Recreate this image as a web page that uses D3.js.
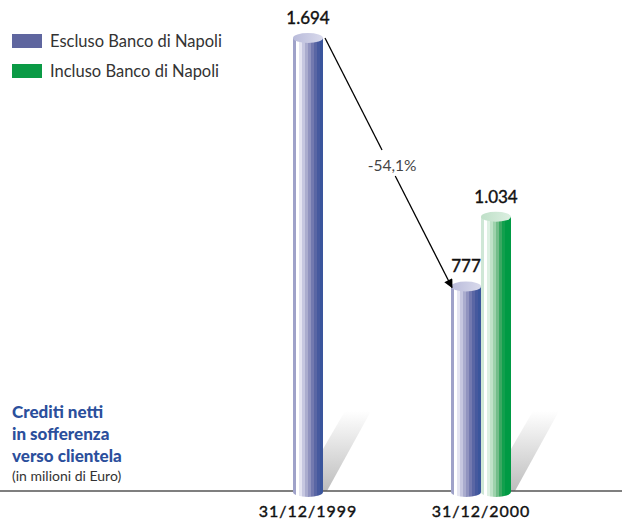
<!DOCTYPE html>
<html>
<head>
<meta charset="utf-8">
<script src="https://cdn.jsdelivr.net/npm/d3@7"></script>
<style>
  html, body { margin: 0; padding: 0; background: #fff; }
  svg { display: block; }
</style>
</head>
<body>
<svg id="chart" width="622" height="521"></svg>
<script>
// ---- data ----
const categories = ["31/12/1999", "31/12/2000"];
const seriesNames = ["Escluso Banco di Napoli", "Incluso Banco di Napoli"];
const escluso = [1694, 777];
const incluso = [null, 1034];
const valueLabels = { escluso: ["1.694", "777"], incluso: [null, "1.034"] };
const changeLabel = "-54,1%";
const titleLines = ["Crediti netti", "in sofferenza", "verso clientela"];
const subtitle = "(in milioni di Euro)";

const svg = d3.select("#chart");
const W = 622, H = 521;

const y = d3.scaleLinear().domain([0, 1694]).range([497, 38]);
const x = d3.scalePoint().domain(categories).range([308, 481]);
const barW = 30, ry = 5;

const defs = svg.append("defs");
function cylGrad(id, stops) {
  const g = defs.append("linearGradient").attr("id", id)
    .attr("x1", "0%").attr("x2", "100%").attr("y1", "0%").attr("y2", "0%");
  const n = stops.length;
  stops.forEach((c, i) => {
    g.append("stop").attr("offset", (i / n * 100) + "%").attr("stop-color", c);
    g.append("stop").attr("offset", ((i + 1) / n * 100) + "%").attr("stop-color", c);
  });
}
cylGrad("gBlue", ["#9fa2c9", "#ffffff", "#e4e4f1", "#c6c7e0", "#aaacce", "#9093bf", "#7379af", "#5a66a4", "#46599e", "#3a559c"]);
cylGrad("gGreen", ["#cfe7d6", "#ffffff", "#ddf0e2", "#bfe2c8", "#9dd2ab", "#72bd89", "#3ba862", "#11a04d", "#009a44", "#009a44"]);
const topB = defs.append("linearGradient").attr("id", "tBlue").attr("x1", "0%").attr("x2", "100%");
topB.append("stop").attr("offset", "0%").attr("stop-color", "#b9bbda");
topB.append("stop").attr("offset", "100%").attr("stop-color", "#d9daec");
const topG = defs.append("linearGradient").attr("id", "tGreen").attr("x1", "0%").attr("x2", "100%");
topG.append("stop").attr("offset", "0%").attr("stop-color", "#bfe0c8");
topG.append("stop").attr("offset", "100%").attr("stop-color", "#dcefe1");
const sh = defs.append("linearGradient").attr("id", "shadow").attr("x1", "0").attr("x2", "0").attr("y1", "1").attr("y2", "0");
sh.append("stop").attr("offset", "0%").attr("stop-color", "#bdbdbd");
sh.append("stop").attr("offset", "100%").attr("stop-color", "#ffffff");
defs.append("marker").attr("id", "arrow").attr("viewBox", "0 0 10 10")
  .attr("refX", 9).attr("refY", 5).attr("markerWidth", 11).attr("markerHeight", 9)
  .attr("markerUnits", "userSpaceOnUse").attr("orient", "auto")
  .append("path").attr("d", "M0,0 L10,5 L0,10 z").attr("fill", "#000");

// ---- legend ----
const legColors = ["#5f669f", "#0a9a45"];
seriesNames.forEach((s, i) => {
  svg.append("rect").attr("x", 12).attr("y", 34 + i * 30).attr("width", 30).attr("height", 14).attr("fill", legColors[i]);
  svg.append("text").attr("x", 50).attr("y", 47 + i * 30).text(s)
    .attr("font-family", "Lato, sans-serif").attr("font-size", 16.5).attr("fill", "#333");
});

// ---- title ----
titleLines.forEach((t, i) => {
  svg.append("text").attr("x", 12).attr("y", 418 + i * 22).text(t)
    .attr("font-family", "Lato, sans-serif").attr("font-weight", 900).attr("font-size", 17)
    .attr("fill", "#2b4f9c");
});
svg.append("text").attr("x", 12).attr("y", 481).text(subtitle)
  .attr("font-family", "Lato, sans-serif").attr("font-size", 14).attr("fill", "#333");

// ---- shadows ----
function shadow(xr) {
  const b = 491;
  const pts = [[xr, b], [xr + 4, b], [xr + 48, b - 80], [xr + 22, b - 80], [xr, b - 42]];
  svg.append("polygon").attr("points", pts.map(p => p.join(",")).join(" ")).attr("fill", "url(#shadow)");
}
shadow(x(categories[0]) + barW / 2);
shadow(x(categories[1]) + barW);

// ---- axis line ----
svg.append("line").attr("x1", 0).attr("x2", W).attr("y1", 491).attr("y2", 491)
  .attr("stroke", "#555").attr("stroke-width", 1.3);

// ---- bars ----
function cylinder(cx, v, grad, topFill) {
  const x0 = cx - barW / 2, yt = y(v), yb = y(0) - ry;
  svg.append("rect").attr("x", x0).attr("y", yt).attr("width", barW).attr("height", yb - yt).attr("fill", `url(#${grad})`);
  svg.append("path")
    .attr("d", `M${x0},${yb} A${barW / 2},${ry} 0 0 0 ${x0 + barW},${yb} Z`)
    .attr("fill", `url(#${grad})`);
  svg.append("ellipse").attr("cx", cx).attr("cy", yt).attr("rx", barW / 2).attr("ry", ry).attr("fill", `url(#${topFill})`);
}
const bars = [];
categories.forEach((c, i) => {
  if (incluso[i] == null) {
    bars.push({ cx: x(c), v: escluso[i], g: "gBlue", t: "tBlue", lab: valueLabels.escluso[i] });
  } else {
    bars.push({ cx: x(c) - barW / 2, v: escluso[i], g: "gBlue", t: "tBlue", lab: valueLabels.escluso[i] });
    bars.push({ cx: x(c) + barW / 2, v: incluso[i], g: "gGreen", t: "tGreen", lab: valueLabels.incluso[i] });
  }
});
bars.forEach(b => {
  cylinder(b.cx, b.v, b.g, b.t);
  svg.append("text").attr("x", b.cx).attr("y", y(b.v) - 14).attr("text-anchor", "middle").text(b.lab)
    .attr("font-family", "Lato, sans-serif").attr("font-weight", 400).attr("font-size", 17)
    .attr("stroke", "#111").attr("stroke-width", 0.4).attr("fill", "#111");
});

// ---- category labels ----
categories.forEach(c => {
  svg.append("text").attr("x", x(c)).attr("y", 517).attr("text-anchor", "middle").text(c)
    .attr("font-family", "Lato, sans-serif").attr("font-weight", 400).attr("font-size", 16)
    .attr("stroke", "#111").attr("stroke-width", 0.4)
    .attr("letter-spacing", 1).attr("fill", "#111");
});

// ---- change arrow ----
const p0 = [bars[0].cx + 17, y(bars[0].v)];
const p1 = [bars[1].cx - 14, y(bars[1].v) + 1];
const lx = 392, ly = 165;
const t1 = (150 - p0[1]) / (p1[1] - p0[1]);
const t2 = (176 - p0[1]) / (p1[1] - p0[1]);
const lerp = t => [p0[0] + (p1[0] - p0[0]) * t, p0[1] + (p1[1] - p0[1]) * t];
const a = lerp(t1), b2 = lerp(t2);
svg.append("line").attr("x1", p0[0]).attr("y1", p0[1]).attr("x2", a[0]).attr("y2", a[1]).attr("stroke", "#000").attr("stroke-width", 1.3);
svg.append("line").attr("x1", b2[0]).attr("y1", b2[1]).attr("x2", p1[0]).attr("y2", p1[1]).attr("stroke", "#000").attr("stroke-width", 1.3).attr("marker-end", "url(#arrow)");
svg.append("text").attr("x", lx).attr("y", ly + 6).attr("text-anchor", "middle").text(changeLabel)
  .attr("font-family", "Lato, sans-serif").attr("font-size", 15.5).attr("fill", "#444");
</script>
</body>
</html>
